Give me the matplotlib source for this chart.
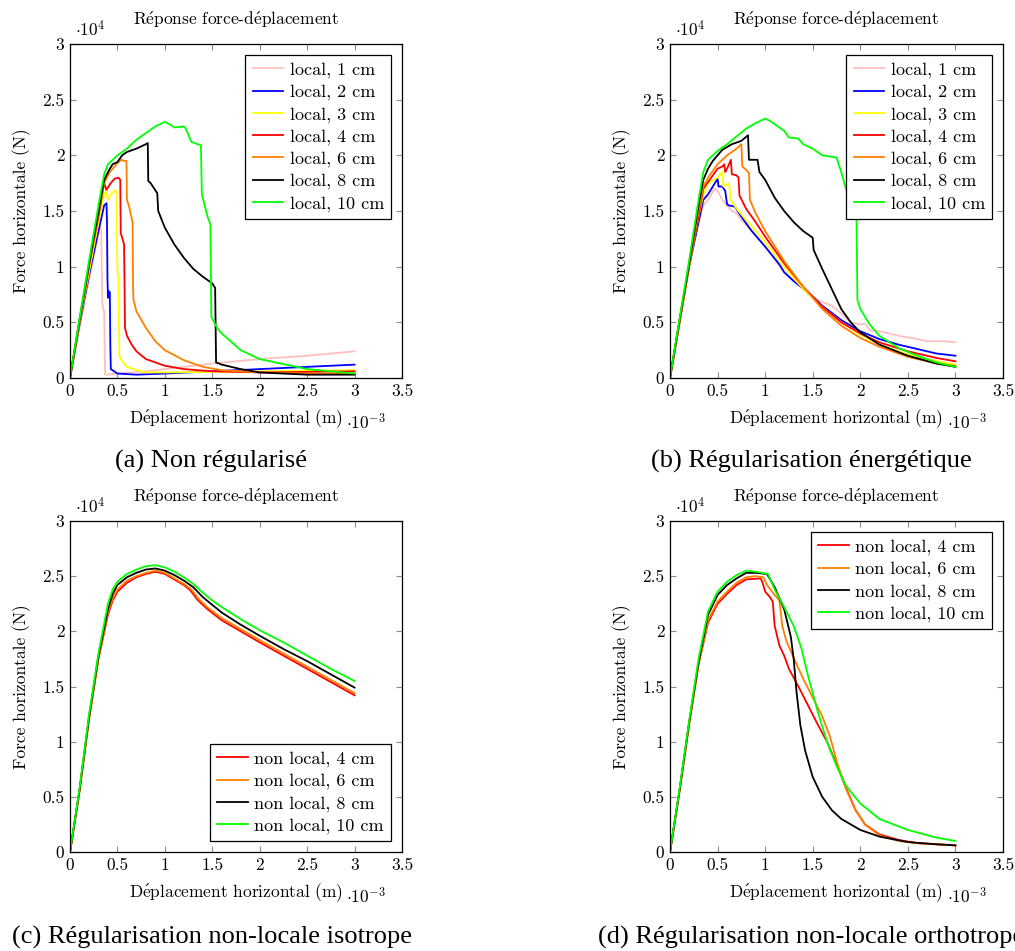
import matplotlib
matplotlib.use('Agg')
from matplotlib import pyplot as plt

plt.rcParams['font.family'] = ['cmr10', 'DejaVu Serif']
plt.rcParams['mathtext.fontset'] = 'cm'
plt.rcParams['axes.formatter.use_mathtext'] = True
plt.rcParams['axes.unicode_minus'] = False

# displacement in 1e-3 m, force in 1e4 N
# (a) non regularise
a1_x = [0, 0.1, 0.2, 0.3, 0.32, 0.33, 0.34, 0.35, 0.36, 0.37, 0.5, 0.8, 1.0, 1.5, 2.0, 2.5, 3.0]
a1_y = [0, 0.45, 0.88, 1.3, 1.36, 1.3, 0.68, 0.62, 0.6, 0.03, 0.04, 0.06, 0.08, 0.13, 0.17, 0.2, 0.24]
a2_x = [0, 0.1, 0.2, 0.3, 0.36, 0.385, 0.39, 0.395, 0.40, 0.405, 0.42, 0.425, 0.43, 0.5, 0.7, 1.0, 1.5, 2.0, 2.5, 3.0]
a2_y = [0, 0.48, 0.92, 1.32, 1.55, 1.57, 1.4, 0.9, 0.72, 0.78, 0.77, 0.3, 0.08, 0.04, 0.03, 0.04, 0.06, 0.08, 0.1, 0.12]
a3_x = [0, 0.1, 0.2, 0.3, 0.36, 0.38, 0.40, 0.43, 0.48, 0.49, 0.5, 0.51, 0.52, 0.55, 0.6, 0.7, 0.8, 1.0, 2.0, 3.0]
a3_y = [0, 0.5, 0.95, 1.4, 1.65, 1.68, 1.6, 1.65, 1.69, 1.65, 0.95, 0.9, 0.2, 0.15, 0.1, 0.07, 0.05, 0.05, 0.06, 0.07]
a4_x = [0, 0.1, 0.2, 0.3, 0.36, 0.385, 0.42, 0.47, 0.51, 0.53, 0.535, 0.55, 0.57, 0.58, 0.6, 0.65, 0.7,
        0.8, 1.0, 1.2, 1.5, 2.0, 3.0]
a4_y = [0, 0.5, 1.0, 1.45, 1.75, 1.69, 1.74, 1.79, 1.80, 1.78, 1.3, 1.26, 1.2, 0.45, 0.38, 0.3, 0.24,
        0.17, 0.11, 0.08, 0.06, 0.05, 0.06]
a6_x = [0, 0.1, 0.2, 0.3, 0.36, 0.42, 0.5, 0.54, 0.57, 0.595, 0.6, 0.62, 0.66, 0.665, 0.67, 0.7, 0.8,
        0.9, 1.0, 1.2, 1.4, 1.6, 2.0, 2.5, 3.0]
a6_y = [0, 0.5, 1.0, 1.5, 1.75, 1.85, 1.93, 1.96, 1.95, 1.95, 1.6, 1.55, 1.4, 0.8, 0.7, 0.6, 0.45,
        0.33, 0.25, 0.16, 0.1, 0.07, 0.05, 0.04, 0.04]
a8_x = [0, 0.1, 0.2, 0.3, 0.36, 0.42, 0.45, 0.5, 0.55, 0.6, 0.7, 0.8, 0.82, 0.825, 0.85, 0.92, 0.93,
        1.0, 1.1, 1.2, 1.3, 1.4, 1.5, 1.53, 1.54, 1.6, 1.8, 2.0, 2.5, 3.0]
a8_y = [0, 0.52, 1.02, 1.5, 1.78, 1.88, 1.92, 1.94, 2.0, 2.03, 2.06, 2.1, 2.11, 1.77, 1.75, 1.66, 1.5,
        1.35, 1.2, 1.08, 0.98, 0.91, 0.85, 0.81, 0.14, 0.12, 0.08, 0.05, 0.03, 0.03]
a10_x = [0, 0.1, 0.2, 0.3, 0.36, 0.4, 0.5, 0.6, 0.7, 0.8, 0.9, 1.0, 1.05, 1.1, 1.2, 1.22, 1.28, 1.38,
         1.39, 1.45, 1.48, 1.49, 1.55, 1.6, 1.8, 2.0, 2.5, 3.0]
a10_y = [0, 0.53, 1.05, 1.55, 1.83, 1.92, 2.0, 2.06, 2.14, 2.2, 2.26, 2.3, 2.28, 2.25, 2.26, 2.24, 2.12, 2.09,
         1.65, 1.45, 1.38, 0.55, 0.45, 0.4, 0.25, 0.17, 0.08, 0.04]

# (b) regularisation energetique
b1_x = [0, 0.1, 0.2, 0.3, 0.35, 0.4, 0.47, 0.5, 0.55, 0.6, 0.65, 0.7, 0.75, 0.85, 1.0, 1.2, 1.3, 1.4,
        1.55, 1.7, 1.8, 1.9, 2.0, 2.05, 2.1, 2.2, 2.4, 2.6, 2.7, 2.9, 3.0]
b1_y = [0, 0.5, 1.0, 1.4, 1.55, 1.6, 1.7, 1.68, 1.6, 1.55, 1.5, 1.48, 1.42, 1.33, 1.18, 0.95, 0.88, 0.8,
        0.7, 0.65, 0.58, 0.5, 0.48, 0.49, 0.43, 0.42, 0.38, 0.35, 0.33, 0.33, 0.32]
b2_x = [0, 0.1, 0.2, 0.3, 0.35, 0.4, 0.45, 0.5, 0.51, 0.55, 0.58, 0.6, 0.62, 0.68, 0.75, 0.85, 1.0,
        1.15, 1.2, 1.3, 1.45, 1.6, 1.8, 2.0, 2.2, 2.4, 2.6, 2.8, 3.0]
b2_y = [0, 0.5, 1.0, 1.4, 1.6, 1.65, 1.72, 1.79, 1.72, 1.72, 1.68, 1.56, 1.55, 1.54, 1.45, 1.33, 1.18,
        1.02, 0.95, 0.87, 0.77, 0.65, 0.52, 0.42, 0.35, 0.3, 0.26, 0.22, 0.2]
b3_x = [0, 0.1, 0.2, 0.3, 0.35, 0.4, 0.5, 0.55, 0.56, 0.6, 0.62, 0.64, 0.7, 0.8, 0.9, 1.0, 1.2, 1.4,
        1.6, 1.8, 2.0, 2.2, 2.5, 2.8, 3.0]
b3_y = [0, 0.5, 1.0, 1.45, 1.65, 1.75, 1.8, 1.85, 1.72, 1.74, 1.75, 1.6, 1.52, 1.42, 1.32, 1.22, 1.0, 0.8,
        0.64, 0.5, 0.39, 0.3, 0.21, 0.15, 0.12]
b4_x = [0, 0.1, 0.2, 0.3, 0.35, 0.4, 0.45, 0.5, 0.55, 0.57, 0.58, 0.6, 0.64, 0.65, 0.7, 0.72, 0.73,
        0.8, 0.9, 1.0, 1.2, 1.4, 1.6, 1.8, 2.0, 2.2, 2.5, 2.8, 3.0]
b4_y = [0, 0.5, 1.0, 1.45, 1.7, 1.76, 1.82, 1.88, 1.9, 1.92, 1.85, 1.88, 1.96, 1.83, 1.82, 1.8, 1.64,
        1.52, 1.4, 1.27, 1.03, 0.82, 0.64, 0.5, 0.4, 0.32, 0.24, 0.18, 0.15]
b6_x = [0, 0.1, 0.2, 0.3, 0.35, 0.4, 0.5, 0.6, 0.7, 0.75, 0.76, 0.8, 0.83, 0.84, 0.9, 1.0, 1.2, 1.4,
        1.6, 1.8, 2.0, 2.2, 2.5, 2.8, 3.0]
b6_y = [0, 0.5, 1.0, 1.5, 1.72, 1.8, 1.92, 2.0, 2.06, 2.1, 1.9, 1.87, 1.84, 1.6, 1.48, 1.32, 1.05, 0.82,
        0.62, 0.47, 0.36, 0.28, 0.19, 0.13, 0.11]
b8_x = [0, 0.1, 0.2, 0.3, 0.35, 0.4, 0.45, 0.55, 0.65, 0.75, 0.82, 0.83, 0.92, 0.94, 1.0, 1.1, 1.2,
        1.3, 1.4, 1.5, 1.51, 1.6, 1.7, 1.8, 1.9, 2.0, 2.2, 2.5, 2.8, 3.0]
b8_y = [0, 0.52, 1.02, 1.55, 1.78, 1.88, 1.95, 2.05, 2.1, 2.13, 2.18, 1.96, 1.96, 1.85, 1.78, 1.62, 1.5,
        1.4, 1.32, 1.26, 1.15, 0.98, 0.8, 0.62, 0.5, 0.41, 0.3, 0.2, 0.13, 0.1]
b10_x = [0, 0.1, 0.2, 0.3, 0.35, 0.4, 0.5, 0.6, 0.7, 0.8, 0.9, 1.0, 1.05, 1.1, 1.2, 1.25, 1.35, 1.4,
         1.5, 1.6, 1.75, 1.8, 1.85, 1.9, 1.96, 1.97, 2.0, 2.1, 2.2, 2.4, 2.6, 2.8, 3.0]
b10_y = [0, 0.53, 1.05, 1.6, 1.85, 1.96, 2.04, 2.1, 2.17, 2.24, 2.29, 2.33, 2.31, 2.28, 2.22, 2.16, 2.15, 2.1,
         2.06, 2.0, 1.98, 1.85, 1.7, 1.55, 1.43, 0.7, 0.62, 0.48, 0.38, 0.27, 0.2, 0.14, 0.1]

# (c) non locale isotrope
c4_x = [0, 0.1, 0.2, 0.3, 0.4, 0.45, 0.5, 0.6, 0.7, 0.8, 0.9, 1.0, 1.1, 1.2, 1.27, 1.35, 1.45, 1.6,
        1.8, 2.0, 2.25, 2.5, 2.75, 3.0]
c4_y = [0, 0.55, 1.2, 1.75, 2.15, 2.28, 2.36, 2.44, 2.49, 2.52, 2.54, 2.52, 2.47, 2.42, 2.37, 2.28, 2.2, 2.1,
        2.0, 1.9, 1.78, 1.66, 1.54, 1.42]
c6_x = [0, 0.1, 0.2, 0.3, 0.4, 0.45, 0.5, 0.6, 0.7, 0.8, 0.9, 1.0, 1.1, 1.2, 1.28, 1.36, 1.46, 1.6,
        1.8, 2.0, 2.25, 2.5, 2.75, 3.0]
c6_y = [0, 0.55, 1.2, 1.76, 2.17, 2.3, 2.38, 2.46, 2.5, 2.53, 2.55, 2.53, 2.48, 2.43, 2.38, 2.29, 2.21, 2.12,
        2.02, 1.92, 1.8, 1.68, 1.56, 1.44]
c8_x = [0, 0.1, 0.2, 0.3, 0.4, 0.45, 0.5, 0.6, 0.7, 0.8, 0.9, 1.0, 1.1, 1.2, 1.3, 1.4, 1.5, 1.6, 1.8,
        2.0, 2.25, 2.5, 2.75, 3.0]
c8_y = [0, 0.56, 1.22, 1.78, 2.2, 2.34, 2.42, 2.49, 2.53, 2.56, 2.57, 2.55, 2.51, 2.46, 2.4, 2.31, 2.24,
        2.17, 2.06, 1.96, 1.84, 1.73, 1.61, 1.49]
c10_x = [0, 0.1, 0.2, 0.3, 0.4, 0.45, 0.5, 0.6, 0.7, 0.8, 0.9, 1.0, 1.1, 1.2, 1.3, 1.4, 1.5, 1.6, 1.8,
         2.0, 2.25, 2.5, 2.75, 3.0]
c10_y = [0, 0.57, 1.24, 1.8, 2.25, 2.38, 2.45, 2.52, 2.56, 2.59, 2.6, 2.58, 2.54, 2.49, 2.43, 2.35, 2.28,
         2.22, 2.11, 2.01, 1.9, 1.78, 1.66, 1.55]

# (d) non locale orthotrope
d4_x = [0, 0.1, 0.2, 0.3, 0.4, 0.5, 0.6, 0.7, 0.8, 0.95, 0.97, 1.0, 1.05, 1.08, 1.1, 1.15, 1.2, 1.25,
        1.35, 1.45, 1.55, 1.65, 1.75, 1.85, 1.95, 2.05, 2.2, 2.4, 2.6, 3.0]
d4_y = [0, 0.55, 1.15, 1.7, 2.08, 2.25, 2.34, 2.42, 2.47, 2.48, 2.45, 2.36, 2.31, 2.27, 2.05, 1.87, 1.78,
        1.66, 1.5, 1.33, 1.16, 1.0, 0.8, 0.58, 0.38, 0.25, 0.16, 0.11, 0.08, 0.06]
d6_x = [0, 0.1, 0.2, 0.3, 0.4, 0.5, 0.6, 0.7, 0.8, 0.9, 0.98, 1.02, 1.08, 1.15, 1.18, 1.22, 1.3, 1.4,
        1.5, 1.6, 1.68, 1.76, 1.85, 1.95, 2.05, 2.2, 2.4, 2.6, 3.0]
d6_y = [0, 0.55, 1.15, 1.7, 2.1, 2.27, 2.36, 2.44, 2.49, 2.5, 2.49, 2.42, 2.35, 2.28, 2.05, 1.92, 1.76, 1.57,
        1.4, 1.23, 1.05, 0.8, 0.57, 0.38, 0.25, 0.15, 0.1, 0.08, 0.06]
d8_x = [0, 0.1, 0.2, 0.3, 0.4, 0.5, 0.6, 0.7, 0.8, 0.9, 1.02, 1.1, 1.2, 1.27, 1.3, 1.33, 1.37, 1.42,
        1.5, 1.6, 1.7, 1.8, 2.0, 2.2, 2.5, 2.8, 3.0]
d8_y = [0, 0.56, 1.17, 1.72, 2.15, 2.33, 2.42, 2.48, 2.53, 2.53, 2.52, 2.4, 2.2, 1.95, 1.75, 1.45, 1.15, 0.92,
        0.68, 0.5, 0.38, 0.3, 0.2, 0.14, 0.09, 0.07, 0.06]
d10_x = [0, 0.1, 0.2, 0.3, 0.4, 0.5, 0.6, 0.7, 0.8, 0.9, 1.03, 1.1, 1.2, 1.3, 1.38, 1.45, 1.55, 1.65,
         1.75, 1.85, 2.0, 2.2, 2.5, 2.8, 3.0]
d10_y = [0, 0.57, 1.18, 1.75, 2.18, 2.36, 2.45, 2.51, 2.55, 2.54, 2.52, 2.38, 2.22, 2.05, 1.85, 1.6, 1.28,
         1.0, 0.78, 0.6, 0.44, 0.3, 0.2, 0.13, 0.1]

labels_local = ['local, 1 cm', 'local, 2 cm', 'local, 3 cm', 'local, 4 cm',
                'local, 6 cm', 'local, 8 cm', 'local, 10 cm']
labels_nonlocal = ['non local, 4 cm', 'non local, 6 cm', 'non local, 8 cm', 'non local, 10 cm']
colors_local = ['#ffbfbf', '#0000ff', '#ffff00', '#ff0000', '#ff8000', '#000000', '#00ff00']
colors_nonlocal = ['#ff0000', '#ff8000', '#000000', '#00ff00']
captions = ['(a) Non régularisé', '(b) Régularisation énergétique',
            '(c) Régularisation non-locale isotrope', '(d) Régularisation non-locale orthotrope']

# cmr10 has no accented glyphs, build the e-acute with mathtext
E = r'$\acute{\mathrm{e}}$'
title_txt = 'R' + E + 'ponse force-d' + E + 'placement'
xlabel_txt = 'D' + E + 'placement horizontal (m)'
ylabel_txt = 'Force horizontale (N)'

FS = 12.5


def panel(ax, series, labels, colors, legend_loc):
    for (xs, ys), lab, col in zip(series, labels, colors):
        ax.plot(xs, ys, color=col, lw=1.3, label=lab)
    ax.set_xlim(0, 3.5)
    ax.set_ylim(0, 3)
    ax.set_xticks([0, 0.5, 1, 1.5, 2, 2.5, 3, 3.5])
    ax.set_yticks([0, 0.5, 1, 1.5, 2, 2.5, 3])
    ax.xaxis.set_major_formatter(lambda v, p: f'{v:g}')
    ax.yaxis.set_major_formatter(lambda v, p: f'{v:g}')
    ax.tick_params(direction='in', length=4, width=0.8, color='0.55', top=True, right=True,
                   labelsize=FS, pad=4)
    for s in ax.spines.values():
        s.set_linewidth(0.9)
    ax.set_title(title_txt, fontsize=FS, pad=14)
    ax.set_xlabel(xlabel_txt, fontsize=FS, labelpad=6)
    ax.set_ylabel(ylabel_txt, fontsize=FS, labelpad=8)
    ax.text(0.015, 1.015, r'$\cdot 10^{4}$', transform=ax.transAxes, fontsize=FS, va='bottom', ha='left')
    ax.text(0.832, -0.155, r'$\cdot 10^{-3}$', transform=ax.transAxes, fontsize=FS, va='baseline', ha='left')
    leg = ax.legend(loc=legend_loc, fontsize=13, frameon=True, fancybox=False, edgecolor='black',
                    framealpha=1, handlelength=1.7, handletextpad=0.35, labelspacing=0.34,
                    borderpad=0.4, borderaxespad=0.6)
    leg.get_frame().set_linewidth(0.9)


fig = plt.figure(figsize=(10.15, 9.51), dpi=100)
W, H = 1015., 951.
ax_a = fig.add_axes([70 / W, 1 - 378 / H, 332 / W, 334 / H])
ax_b = fig.add_axes([670 / W, 1 - 378 / H, 333 / W, 334 / H])
ax_c = fig.add_axes([70 / W, 1 - 852 / H, 332 / W, 331 / H])
ax_d = fig.add_axes([670 / W, 1 - 852 / H, 333 / W, 331 / H])

panel(ax_a, [(a1_x, a1_y), (a2_x, a2_y), (a3_x, a3_y), (a4_x, a4_y), (a6_x, a6_y), (a8_x, a8_y),
             (a10_x, a10_y)], labels_local, colors_local, 'upper right')
panel(ax_b, [(b1_x, b1_y), (b2_x, b2_y), (b3_x, b3_y), (b4_x, b4_y), (b6_x, b6_y), (b8_x, b8_y),
             (b10_x, b10_y)], labels_local, colors_local, 'upper right')
panel(ax_c, [(c4_x, c4_y), (c6_x, c6_y), (c8_x, c8_y), (c10_x, c10_y)],
      labels_nonlocal, colors_nonlocal, 'lower right')
panel(ax_d, [(d4_x, d4_y), (d6_x, d6_y), (d8_x, d8_y), (d10_x, d10_y)],
      labels_nonlocal, colors_nonlocal, 'upper right')

for (cx, cy), cap in zip([(211, 461), (811, 461), (212, 937), (811, 937)], captions):
    fig.text(cx / W, 1 - cy / H, cap, fontsize=19, family='Liberation Serif', ha='center', va='center')

fig.savefig('out.png', dpi=100)
